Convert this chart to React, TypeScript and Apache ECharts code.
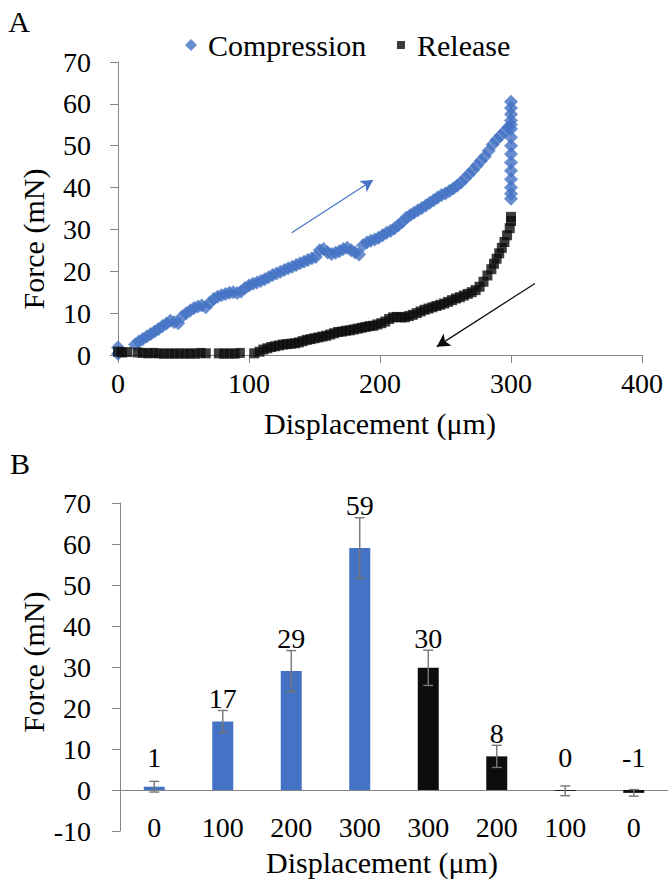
import React, { useEffect, useRef } from "react";
import * as echarts from "echarts";

const FONT = "'Liberation Serif', 'Times New Roman', 'DejaVu Serif', serif";
const BLUE = "#4472C4";
const BLACK = "#0d0d0d";
const AXIS = "#868686";

// Panel A: force vs displacement (x in µm, y in mN)
const compression: [number, number][] = [
  [0, 0.3], [0, 1.8], [13, 2.5], [16, 3.2], [19, 3.8], [22, 4.4], [25, 5.0], [28, 5.6],
  [31, 6.2], [34, 6.9], [37, 7.5], [40, 8.2], [43, 7.8], [46, 7.6], [49, 9.2], [52, 10.0],
  [55, 10.6], [58, 11.2], [61, 11.6], [64, 11.8], [67, 11.4], [70, 12.4], [73, 13.4],
  [76, 13.9], [79, 14.3], [82, 14.6], [85, 14.9], [88, 15.0], [91, 14.8], [94, 15.2],
  [97, 16.0], [100, 16.6], [103, 17.0], [106, 17.3], [109, 17.7], [112, 18.1], [115, 18.6],
  [118, 19.1], [121, 19.5], [124, 19.9], [127, 20.3], [130, 20.7], [133, 21.1], [136, 21.5],
  [139, 21.9], [142, 22.3], [145, 22.7], [148, 23.1], [151, 23.4], [154, 25.0], [157, 25.3],
  [160, 24.5], [163, 24.1], [166, 24.4], [169, 24.8], [172, 25.3], [175, 25.6], [178, 25.0],
  [181, 24.5], [184, 24.0], [187, 26.2], [190, 26.9], [193, 27.3], [196, 27.6], [199, 28.0],
  [202, 28.6], [205, 29.2], [208, 29.6], [211, 30.2], [214, 31.0], [217, 31.8], [220, 32.8],
  [223, 33.4], [226, 34.0], [229, 34.6], [232, 35.1], [235, 35.7], [238, 36.4], [241, 37.0],
  [244, 37.6], [247, 38.2], [250, 38.6], [253, 39.2], [256, 39.8], [259, 40.5], [262, 41.3],
  [265, 42.2], [268, 43.2], [271, 44.2], [274, 45.3], [277, 46.4], [280, 47.4], [283, 48.8],
  [286, 50.3], [289, 51.4], [292, 52.4], [295, 53.4], [298, 54.4], [300, 55.0],
  [300, 60.5], [300, 59.0], [300, 57.5], [300, 56.0], [300, 54.0], [300, 52.0], [300, 50.0],
  [300, 48.0], [300, 46.0], [300, 44.0], [300, 42.0], [300, 40.0], [300, 38.5], [300, 37.3],
];

const release: [number, number][] = [
  [0, 0.8], [3, 0.6], [7, 0.7], [15, 0.6], [19, 0.5], [23, 0.4], [27, 0.5], [31, 0.4],
  [35, 0.3], [39, 0.4], [43, 0.3], [47, 0.4], [51, 0.3], [55, 0.4], [59, 0.3], [63, 0.5],
  [67, 0.4], [77, 0.4], [81, 0.3], [85, 0.4], [89, 0.3], [93, 0.5], [104, 0.4], [108, 0.8],
  [111, 1.3], [114, 1.6], [117, 1.9], [120, 2.1], [123, 2.3], [126, 2.5], [129, 2.6],
  [132, 2.7], [135, 2.8], [138, 3.0], [141, 3.3], [144, 3.6], [147, 3.8], [150, 4.0],
  [153, 4.2], [156, 4.4], [159, 4.6], [162, 4.9], [165, 5.2], [168, 5.5], [171, 5.6],
  [174, 5.8], [177, 5.9], [180, 6.1], [183, 6.3], [186, 6.5], [189, 6.7], [192, 6.9],
  [195, 7.0], [198, 7.3], [201, 7.6], [204, 8.0], [207, 8.6], [210, 9.0], [213, 9.1],
  [216, 9.0], [219, 9.0], [222, 9.3], [225, 9.6], [228, 10.0], [231, 10.4], [234, 10.8],
  [237, 11.1], [240, 11.4], [243, 11.7], [246, 12.0], [249, 12.3], [252, 12.7], [255, 13.1],
  [258, 13.5], [261, 13.8], [264, 14.2], [267, 14.6], [270, 15.0], [273, 15.5], [276, 16.3],
  [279, 17.5], [282, 19.0], [285, 20.5], [287, 21.8], [289, 23.0], [291, 24.3], [293, 25.6],
  [295, 27.0], [297, 28.6], [299, 30.3], [300, 32.0], [300, 33.0],
];

// Direction arrows (data coordinates of panel A)
const compressionArrow: [number, number][] = [[132.6, 29.2], [194.7, 41.8]];
const releaseArrow: [number, number][] = [[318.3, 17.1], [243.3, 2.0]];

// Panel B: mean force with error bars
const barCategories = ["0", "100", "200", "300", "300", "200", "100", "0"];
const barPhase = ["Compression", "Compression", "Compression", "Compression", "Release", "Release", "Release", "Release"];
const barValues = [0.8, 16.7, 29.0, 59.0, 29.8, 8.2, -0.2, -0.7];
const barErrors = [1.3, 2.7, 5.0, 7.4, 4.3, 2.7, 1.2, 0.8];

const txt = { fontFamily: FONT, color: "#000" };
const TICK = 28;
const TITLE = 30;

export default function App() {
  const ref = useRef<HTMLDivElement>(null);

  useEffect(() => {
    if (!ref.current) return;
    const chart = echarts.init(ref.current, undefined, { renderer: "svg" });

    const option: any = {
      animation: false,
      backgroundColor: "#fff",
      textStyle: { fontFamily: FONT },
      legend: [
        {
          data: [{ name: "Compression", icon: "diamond" }],
          left: 180,
          top: 25,
          itemWidth: 12,
          itemHeight: 12,
          selectedMode: false,
          textStyle: { ...txt, fontSize: TITLE, padding: [0, 0, 0, 6] },
        },
        {
          data: [{ name: "Release", icon: "rect" }],
          left: 392,
          top: 25,
          itemWidth: 8,
          itemHeight: 8,
          selectedMode: false,
          textStyle: { ...txt, fontSize: TITLE, padding: [0, 0, 0, 7] },
        },
      ],
      grid: [
        { left: 118, top: 62, width: 524, height: 293, outerBoundsMode: "none", containLabel: false },
        { left: 120, top: 503, width: 548, height: 328, outerBoundsMode: "none", containLabel: false },
      ],
      xAxis: [
        {
          gridIndex: 0,
          type: "value",
          min: 0,
          max: 400,
          interval: 100,
          name: "Displacement (μm)",
          nameLocation: "middle",
          nameGap: 53,
          nameTextStyle: { ...txt, fontSize: TITLE },
          axisLine: { lineStyle: { color: AXIS } },
          axisTick: { show: true, length: 8, lineStyle: { color: AXIS } },
          axisLabel: { ...txt, fontSize: TICK, margin: 14 },
          splitLine: { show: false },
        },
        {
          gridIndex: 1,
          type: "category",
          data: barCategories,
          name: "Displacement (μm)",
          nameLocation: "middle",
          nameGap: 16,
          nameTextStyle: { ...txt, fontSize: TITLE, padding: [0, 24, 0, 0] },
          axisLine: { onZero: true, lineStyle: { color: AXIS } },
          axisTick: { show: false },
          axisLabel: { ...txt, fontSize: TICK, margin: -18 },
          splitLine: { show: false },
        },
      ],
      yAxis: [
        {
          gridIndex: 0,
          type: "value",
          min: 0,
          max: 70,
          interval: 10,
          axisLine: { show: true, lineStyle: { color: AXIS } },
          axisTick: { show: true, length: 8, lineStyle: { color: AXIS } },
          axisLabel: { ...txt, fontSize: TICK, margin: 27 },
          splitLine: { show: false },
        },
        {
          gridIndex: 1,
          type: "value",
          min: -10,
          max: 70,
          interval: 10,
          axisLine: { show: true, lineStyle: { color: AXIS } },
          axisTick: { show: true, length: 8, lineStyle: { color: AXIS } },
          axisLabel: { ...txt, fontSize: TICK, margin: 29 },
          splitLine: { show: false },
        },
      ],
      graphic: [
        { type: "text", x: 19, y: 21, style: { text: "A", fontSize: TITLE, fontFamily: FONT, fill: "#000", align: "center", verticalAlign: "middle" } },
        { type: "text", x: 20, y: 463, style: { text: "B", fontSize: TITLE, fontFamily: FONT, fill: "#000", align: "center", verticalAlign: "middle" } },
        { type: "text", x: 33, y: 239, rotation: Math.PI / 2, style: { text: "Force (mN)", fontSize: TITLE, fontFamily: FONT, fill: "#000", align: "center", verticalAlign: "middle" } },
        { type: "text", x: 33, y: 662, rotation: Math.PI / 2, style: { text: "Force (mN)", fontSize: TITLE, fontFamily: FONT, fill: "#000", align: "center", verticalAlign: "middle" } },
      ],
      series: [
        {
          name: "Compression",
          type: "scatter",
          xAxisIndex: 0,
          yAxisIndex: 0,
          symbol: "diamond",
          symbolSize: 14,
          itemStyle: { color: BLUE },
          data: compression,
          markLine: {
            silent: true,
            symbol: ["none", "arrow"],
            symbolSize: [10, 12],
            label: { show: false },
            lineStyle: { color: BLUE, width: 1.2, type: "solid" },
            data: [[{ coord: compressionArrow[0] }, { coord: compressionArrow[1] }]],
          },
        },
        {
          name: "Release",
          type: "scatter",
          xAxisIndex: 0,
          yAxisIndex: 0,
          symbol: "rect",
          symbolSize: 10,
          itemStyle: { color: BLACK },
          data: release,
          markLine: {
            silent: true,
            symbol: ["none", "arrow"],
            symbolSize: [11, 13],
            label: { show: false },
            lineStyle: { color: BLACK, width: 1.2, type: "solid" },
            data: [[{ coord: releaseArrow[0] }, { coord: releaseArrow[1] }]],
          },
        },
        {
          name: "Mean force",
          type: "bar",
          xAxisIndex: 1,
          yAxisIndex: 1,
          barWidth: 21,
          data: barValues.map((v, i) => ({
            value: v,
            itemStyle: { color: barPhase[i] === "Compression" ? BLUE : BLACK },
          })),
        },
        {
          name: "Error",
          type: "custom",
          xAxisIndex: 1,
          yAxisIndex: 1,
          z: 5,
          encode: { x: 0, y: 1 },
          data: barValues.map((v, i) => [i, v, barErrors[i]]),
          renderItem: (params: any, api: any) => {
            const idx = api.value(0);
            const v = api.value(1);
            const e = api.value(2);
            const top = api.coord([idx, v + e]);
            const bot = api.coord([idx, v - e]);
            const lab = api.coord([idx, Math.max(v + e, 5)]);
            const x = top[0];
            const cap = 5;
            const style = { stroke: "#767676", lineWidth: 1.4 };
            const r = Math.round(v);
            return {
              type: "group",
              children: [
                { type: "line", shape: { x1: x, y1: top[1], x2: x, y2: bot[1] }, style },
                { type: "line", shape: { x1: x - cap, y1: top[1], x2: x + cap, y2: top[1] }, style },
                { type: "line", shape: { x1: x - cap, y1: bot[1], x2: x + cap, y2: bot[1] }, style },
                {
                  type: "text",
                  x,
                  y: lab[1] + 2,
                  style: {
                    text: String(r === 0 ? 0 : r),
                    fontSize: TICK,
                    fontFamily: FONT,
                    fill: "#000",
                    align: "center",
                    verticalAlign: "bottom",
                  },
                },
              ],
            };
          },
        },
      ],
    };

    chart.setOption(option);
    return () => chart.dispose();
  }, []);

  return (
    <div
      ref={ref}
      style={{ position: "absolute", left: 0, top: 0, width: 668, height: 884, background: "#fff" }}
    />
  );
}
